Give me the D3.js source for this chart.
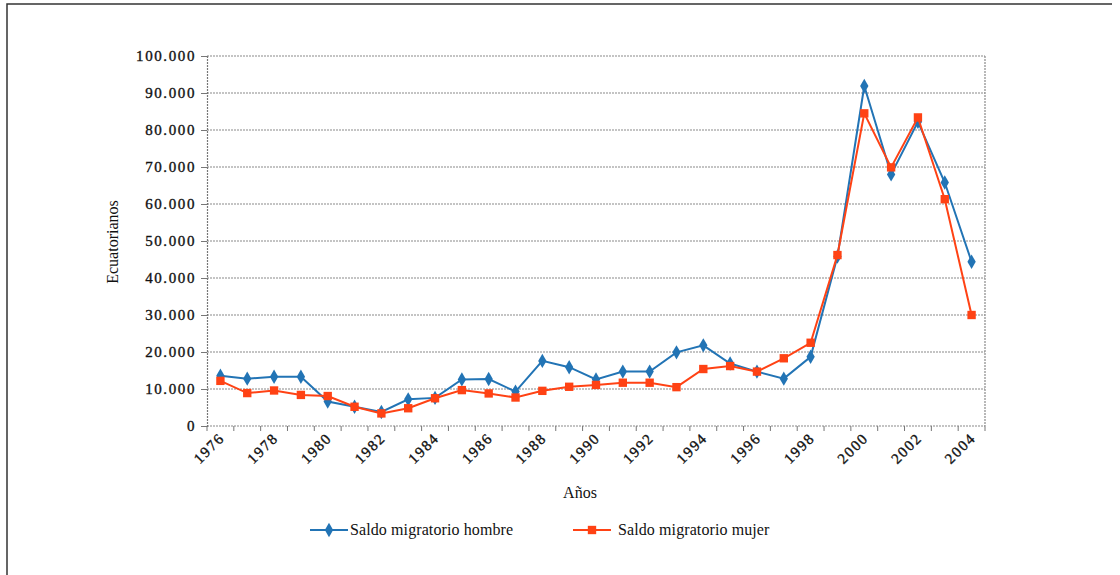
<!DOCTYPE html>
<html>
<head>
<meta charset="utf-8">
<script src="https://cdn.jsdelivr.net/npm/d3@7"></script>
<style>
  body { margin: 0; background: #fff; }
  svg text { font-family: "Liberation Serif", "DejaVu Serif", serif; fill: #111; }
</style>
</head>
<body>
<div id="chart"></div>
<script>
// data
const years = d3.range(1976, 2005);
const hombre = [13600, 12800, 13300, 13300, 6600, 5200, 3800, 7200, 7600, 12600, 12700, 9300,
                17600, 15900, 12600, 14700, 14700, 19900, 21800, 16900, 14700, 12800, 18700,
                45800, 91900, 68000, 82200, 65800, 44400];
const mujer  = [12200, 8900, 9600, 8400, 8100, 5200, 3400, 4800, 7500, 9700, 8800, 7700,
                9500, 10600, 11100, 11700, 11700, 10500, 15400, 16200, 14700, 18300, 22500,
                46200, 84500, 69900, 83400, 61300, 30000];
const yTicks = d3.range(0, 100001, 10000);
const xLabels = years.filter(y => (y - 1976) % 2 === 0);

const WIDTH = 1120, HEIGHT = 575;
const M = {left: 207, right: 985, top: 56, bottom: 426};

const svg = d3.select("#chart").append("svg")
    .attr("width", WIDTH).attr("height", HEIGHT);

// outer frame (top + left edges visible)
svg.append("path")
    .attr("d", `M7,575 V4 H1112`)
    .attr("fill", "none").attr("stroke", "#333").attr("stroke-width", 1.5);

const fmt = d3.formatLocale({decimal: ",", thousands: ".", grouping: [3], currency: ["", ""]}).format(",");

const x = d3.scaleBand().domain(years).range([M.left, M.right]);
const y = d3.scaleLinear().domain([0, 100000]).range([M.bottom, M.top]);
const cx = d => x(d) + x.bandwidth() / 2;

// gridlines
svg.append("g").selectAll("line")
    .data(yTicks).enter().append("line")
    .attr("x1", M.left).attr("x2", M.right)
    .attr("y1", d => y(d)).attr("y2", d => y(d))
    .attr("stroke", "#8a8a8a").attr("stroke-width", 1.2).attr("stroke-dasharray", "2,1");

// right border of plot area
svg.append("line")
    .attr("x1", M.right).attr("x2", M.right).attr("y1", M.top).attr("y2", M.bottom)
    .attr("stroke", "#8a8a8a").attr("stroke-width", 1.2).attr("stroke-dasharray", "2,1");

// y axis
const yAxis = svg.append("g")
    .attr("transform", `translate(${M.left},0)`)
    .call(d3.axisLeft(y).tickValues(yTicks).tickSize(6).tickPadding(5).tickFormat(fmt));
yAxis.attr("font-family", null);
yAxis.select(".domain").attr("stroke", "#777").attr("stroke-width", 1.2).attr("stroke-dasharray", "2,1");
yAxis.selectAll(".tick line").attr("stroke", "#777");
yAxis.selectAll("text")
    .attr("font-size", 15).attr("letter-spacing", 1.6)
    .attr("stroke", "#111").attr("stroke-width", 0.35);

// x axis: ticks between categories
const xg = svg.append("g").attr("transform", `translate(0,${M.bottom})`);
xg.selectAll("line")
    .data(years.concat([2005])).enter().append("line")
    .attr("x1", d => d === 2005 ? M.right : x(d)).attr("x2", d => d === 2005 ? M.right : x(d))
    .attr("y1", 0).attr("y2", 5)
    .attr("stroke", "#777");
xg.selectAll("text")
    .data(xLabels).enter().append("text")
    .attr("transform", d => `translate(${cx(d) + 5},${13}) rotate(-45)`)
    .attr("text-anchor", "end")
    .attr("font-size", 15).attr("letter-spacing", 1.6)
    .attr("stroke", "#111").attr("stroke-width", 0.35)
    .text(d => d);

// axis titles
svg.append("text")
    .attr("x", 580).attr("y", 498).attr("text-anchor", "middle")
    .attr("font-size", 16)
    .text("Años");
svg.append("text")
    .attr("transform", `translate(118,242) rotate(-90)`)
    .attr("text-anchor", "middle")
    .attr("font-size", 16)
    .text("Ecuatorianos");

const series = [
  {name: "Saldo migratorio hombre", values: hombre, color: "#2274b5", marker: d3.symbolDiamond, size: 60},
  {name: "Saldo migratorio mujer", values: mujer, color: "#ff4214", marker: d3.symbolSquare, size: 70}
];

const line = d3.line().x(d => cx(d[0])).y(d => y(d[1]));

series.forEach(s => {
  const pts = years.map((yr, i) => [yr, s.values[i]]);
  svg.append("path")
      .attr("d", line(pts))
      .attr("fill", "none").attr("stroke", s.color).attr("stroke-width", 2);
  svg.append("g").selectAll("path")
      .data(pts).enter().append("path")
      .attr("transform", d => `translate(${cx(d[0])},${y(d[1])})`)
      .attr("d", d3.symbol().type(s.marker).size(s.size))
      .attr("fill", s.color);
});

// legend
const legendPos = [{lx: 310, tx: 350}, {lx: 573, tx: 618}];
series.forEach((s, i) => {
  const g = svg.append("g").attr("transform", `translate(${legendPos[i].lx},530)`);
  g.append("line").attr("x1", 0).attr("x2", 38).attr("stroke", s.color).attr("stroke-width", 2);
  g.append("path").attr("transform", "translate(19,0)")
      .attr("d", d3.symbol().type(s.marker).size(s.size)).attr("fill", s.color);
  svg.append("text")
      .attr("x", legendPos[i].tx).attr("y", 535)
      .attr("font-size", 16).attr("letter-spacing", 0.1)
      .text(s.name);
});
</script>
</body>
</html>
